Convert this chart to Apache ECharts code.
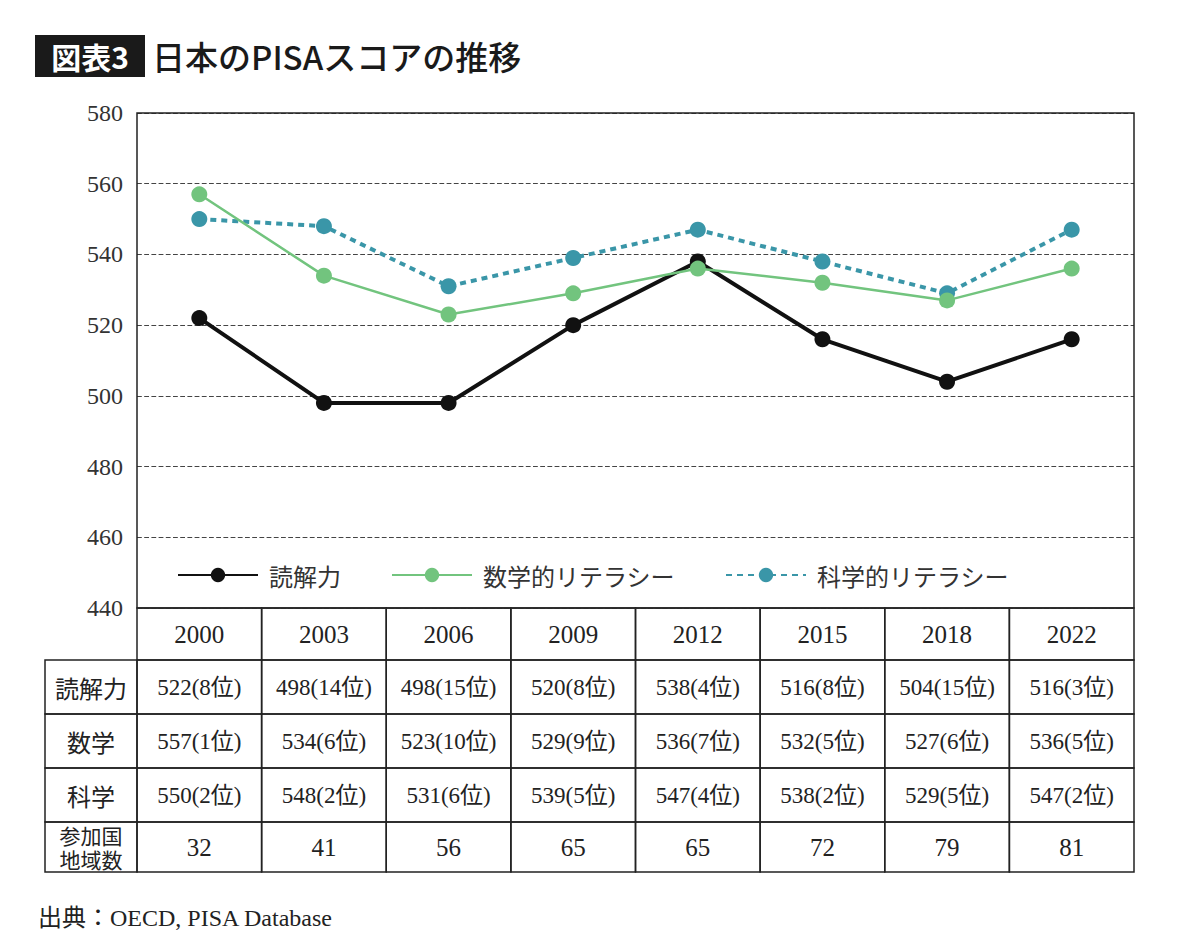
<!DOCTYPE html>
<html>
<head>
<meta charset="utf-8">
<script src="https://cdn.jsdelivr.net/npm/echarts@6/dist/echarts.min.js"></script>
<style>
html, body { margin: 0; padding: 0; background: #fff; }
#main { width: 1179px; height: 944px; }
</style>
</head>
<body>
<div id="main"></div>
<script>
var years = ['2000', '2003', '2006', '2009', '2012', '2015', '2018', '2022'];
var reading = [522, 498, 498, 520, 538, 516, 504, 516];
var readingRank = [8, 14, 15, 8, 4, 8, 15, 3];
var math = [557, 534, 523, 529, 536, 532, 527, 536];
var mathRank = [1, 6, 10, 9, 7, 5, 6, 5];
var science = [550, 548, 531, 539, 547, 538, 529, 547];
var scienceRank = [2, 2, 6, 5, 4, 2, 5, 2];
var countries = [32, 41, 56, 65, 65, 72, 79, 81];
var rowLabels = ['読解力', '数学', '科学'];

var SERIF = '"Liberation Serif", "DejaVu Serif", "Noto Sans CJK JP", serif';
var JP = '"Noto Sans CJK JP", sans-serif';

var plotL = 137, plotR = 1134, plotT = 113, plotB = 608;
var colW = (plotR - plotL) / years.length;
var labelL = 45;

// 表の部分
var g = [];
function cell(x, y, w, h) {
    g.push({ type: 'rect', shape: { x: x, y: y, width: w, height: h },
        style: { fill: 'none', stroke: '#222', lineWidth: 1.5 } });
}
function txt(x, y, s, size, font) {
    g.push({ type: 'text', x: x, y: y,
        style: { text: s, fill: '#222', fontSize: size, fontFamily: font, align: 'center', verticalAlign: 'middle' } });
}
var rowY = [608, 660, 714, 768, 822, 872];
for (var i = 0; i < years.length; i++) {
    var x = plotL + i * colW;
    cell(x, rowY[0], colW, rowY[1] - rowY[0]);
    txt(x + colW / 2, (rowY[0] + rowY[1]) / 2, years[i], 25, SERIF);
}
var rows = [
    { v: reading, r: readingRank },
    { v: math, r: mathRank },
    { v: science, r: scienceRank }
];
for (var j = 0; j < rows.length; j++) {
    var y0 = rowY[j + 1], y1 = rowY[j + 2];
    cell(labelL, y0, plotL - labelL, y1 - y0);
    txt((labelL + plotL) / 2, (y0 + y1) / 2, rowLabels[j], 24, JP);
    for (var i = 0; i < years.length; i++) {
        var x = plotL + i * colW;
        cell(x, y0, colW, y1 - y0);
        txt(x + colW / 2, (y0 + y1) / 2, rows[j].v[i] + '(' + rows[j].r[i] + '位)', 23, SERIF);
    }
}
cell(labelL, rowY[4], plotL - labelL, rowY[5] - rowY[4]);
txt((labelL + plotL) / 2, rowY[4] + 13, '参加国', 21, JP);
txt((labelL + plotL) / 2, rowY[4] + 37, '地域数', 21, JP);
for (var i = 0; i < years.length; i++) {
    var x = plotL + i * colW;
    cell(x, rowY[4], colW, rowY[5] - rowY[4]);
    txt(x + colW / 2, (rowY[4] + rowY[5]) / 2, String(countries[i]), 25, SERIF);
}

// タイトル
g.push({ type: 'rect', shape: { x: 35, y: 35, width: 110, height: 42 }, style: { fill: '#1a1a1a' } });
g.push({ type: 'text', x: 90, y: 56, style: { text: '図表3', fill: '#fff', fontSize: 30, fontWeight: 'bold', fontFamily: JP, align: 'center', verticalAlign: 'middle' } });
g.push({ type: 'text', x: 152, y: 56, style: { text: '日本のPISAスコアの推移', fill: '#1a1a1a', fontSize: 33, fontWeight: 500, fontFamily: JP, align: 'left', verticalAlign: 'middle' } });
g.push({ type: 'text', x: 38, y: 918, style: { text: '出典：OECD, PISA Database', fill: '#222', fontSize: 24, fontFamily: SERIF, align: 'left', verticalAlign: 'middle' } });
// 枠
g.push({ type: 'rect', shape: { x: plotL, y: plotT, width: plotR - plotL, height: plotB - plotT }, style: { fill: 'none', stroke: '#222', lineWidth: 1.5 }, z: 10 });

var myChart = echarts.init(document.getElementById('main'), null, { renderer: 'svg' });
var option = {
    backgroundColor: '#fff',
    animation: false,
    grid: { left: plotL, right: 1179 - plotR, top: plotT, bottom: 944 - plotB },
    legend: {
        left: 172, top: 558,
        itemWidth: 80, itemHeight: 18, itemGap: 50,
        textStyle: { fontSize: 24, fontFamily: JP, color: '#333', padding: [0, 0, 0, 6] },
        data: ['読解力', '数学的リテラシー', '科学的リテラシー']
    },
    xAxis: {
        type: 'category', data: years, boundaryGap: true,
        axisLine: { show: false }, axisTick: { show: false }, axisLabel: { show: false }
    },
    yAxis: {
        type: 'value', min: 440, max: 580, interval: 20,
        axisLine: { show: false }, axisTick: { show: false },
        axisLabel: { fontSize: 24, fontFamily: SERIF, color: '#333', margin: 14 },
        splitLine: { lineStyle: { color: '#444', type: 'dashed', width: 1.2 } }
    },
    series: [
        { name: '読解力', type: 'line', data: reading, symbol: 'circle', symbolSize: 16,
          lineStyle: { color: '#111', width: 4 }, itemStyle: { color: '#111' }, z: 3 },
        { name: '数学的リテラシー', type: 'line', data: math, symbol: 'circle', symbolSize: 16,
          lineStyle: { color: '#72c47e', width: 2.5 }, itemStyle: { color: '#72c47e' }, z: 4 },
        { name: '科学的リテラシー', type: 'line', data: science, symbol: 'circle', symbolSize: 16,
          lineStyle: { color: '#3a96a8', width: 4, type: [6, 5] }, itemStyle: { color: '#3a96a8' }, z: 2 }
    ],
    graphic: g
};
myChart.setOption(option);
</script>
</body>
</html>
